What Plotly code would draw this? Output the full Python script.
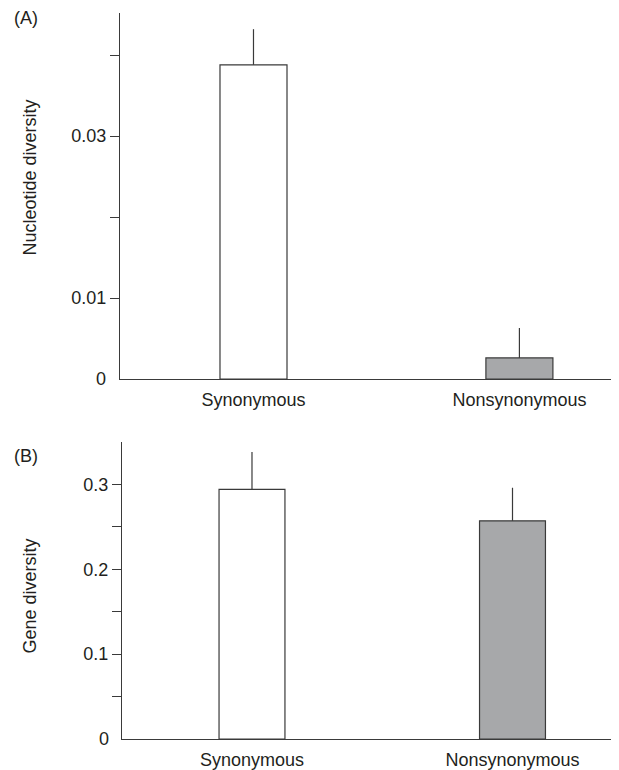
import plotly.graph_objects as go

categories = ["Synonymous", "Nonsynonymous"]
nuc_div = [0.0388, 0.0026]
nuc_err = [0.0044, 0.0037]
gene_div = [0.294, 0.257]
gene_err = [0.044, 0.039]
bar_colors = ["#ffffff", "#a7a8aa"]

nuc_ticks = [0.01, 0.02, 0.03, 0.04]
nuc_ticktext = ["0.01", "", "0.03", ""]
gene_ticks = [0.05, 0.1, 0.15, 0.2, 0.25, 0.3]
gene_ticktext = ["", "0.1", "", "0.2", "", "0.3"]

OFF = 8  # default page body margin
W, H = 619 - OFF, 770 - OFF
FONT = "Liberation Sans, Arial, Helvetica, sans-serif"
FS = 18
INK = "#231f20"
LINE = "#3a3a3a"

def px_x(p):
    return (p - OFF) / W

def px_y(p):
    return 1 - (p - OFF) / H

fig = go.Figure()

fig.add_trace(go.Bar(
    x=[0, 1], y=nuc_div, width=0.252,
    marker=dict(color=bar_colors, line=dict(color=LINE, width=1.2)),
    error_y=dict(type="data", symmetric=False, array=nuc_err, arrayminus=[0, 0],
                 width=0, thickness=1.2, color=LINE),
    xaxis="x", yaxis="y", showlegend=False, hoverinfo="skip",
))
fig.add_trace(go.Bar(
    x=[0, 1], y=gene_div, width=0.253,
    marker=dict(color=bar_colors, line=dict(color=LINE, width=1.2)),
    error_y=dict(type="data", symmetric=False, array=gene_err, arrayminus=[0, 0],
                 width=0, thickness=1.2, color=LINE),
    xaxis="x2", yaxis="y2", showlegend=False, hoverinfo="skip",
))

axis_common = dict(showgrid=False, zeroline=False, showline=True, linecolor=LINE,
                   linewidth=1.2, tickfont=dict(family=FONT, size=FS, color=INK))

fig.update_layout(
    width=W, height=H,
    margin=dict(l=0, r=0, t=0, b=0),
    paper_bgcolor="white", plot_bgcolor="white",
    font=dict(family=FONT, size=FS, color=INK),
    xaxis=dict(domain=[px_x(120), px_x(617)], range=[-0.502, 1.367], anchor="y",
               tickvals=[0, 1], ticktext=categories, ticks="outside", ticklen=4,
               tickcolor="rgba(0,0,0,0)", **axis_common),
    yaxis=dict(domain=[px_y(380), px_y(13)], range=[0, 0.0452], anchor="x",
               tickvals=nuc_ticks, ticktext=nuc_ticktext, ticks="outside", ticklen=9,
               tickcolor=LINE, tickwidth=1.2, **axis_common),
    xaxis2=dict(domain=[px_x(122), px_x(618)], range=[-0.499, 1.405], anchor="y2",
                tickvals=[0, 1], ticktext=categories, ticks="outside", ticklen=4,
                tickcolor="rgba(0,0,0,0)", **axis_common),
    yaxis2=dict(domain=[px_y(741), px_y(443)], range=[0, 0.35], anchor="x2",
                tickvals=gene_ticks, ticktext=gene_ticktext, ticks="outside", ticklen=9,
                tickcolor=LINE, tickwidth=1.2, **axis_common),
)

ann = [
    dict(text="(A)", x=px_x(12), y=px_y(18), xanchor="left", yanchor="middle"),
    dict(text="(B)", x=px_x(12), y=px_y(457), xanchor="left", yanchor="middle"),
    dict(text="Nucleotide diversity", x=px_x(30), y=px_y(178), textangle=-90,
         xanchor="center", yanchor="middle"),
    dict(text="Gene diversity", x=px_x(30), y=px_y(598), textangle=-90,
         xanchor="center", yanchor="middle"),
    dict(text="0", x=px_x(108), y=px_y(380), xanchor="right", yanchor="middle"),
    dict(text="0", x=px_x(111), y=px_y(741), xanchor="right", yanchor="middle"),
]
for a in ann:
    a.update(xref="paper", yref="paper", showarrow=False,
             font=dict(family=FONT, size=FS, color=INK))
fig.update_layout(annotations=ann)

fig.write_html("out.html")
